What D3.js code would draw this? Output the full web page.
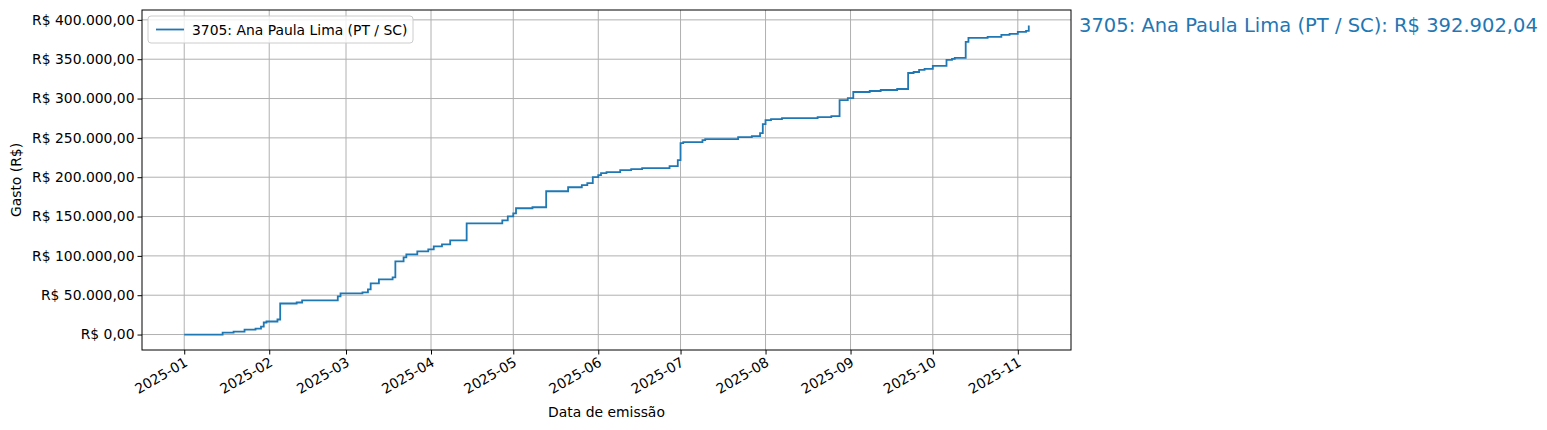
<!DOCTYPE html>
<html><head><meta charset="utf-8">
<script src="https://cdn.jsdelivr.net/npm/d3@7"></script>
<style>body{margin:0;background:#fff}text{font-family:"DejaVu Sans",sans-serif}</style>
</head><body><div id="chart"></div>
<script>
// datas das notas e gasto acumulado (R$)
const datas = ["2025-01-01","2025-01-15","2025-01-19","2025-01-23","2025-01-27","2025-01-29","2025-01-30","2025-01-31","2025-02-04","2025-02-05","2025-02-11","2025-02-13","2025-02-26","2025-02-27","2025-03-07","2025-03-09","2025-03-10","2025-03-13","2025-03-18","2025-03-19","2025-03-22","2025-03-23","2025-03-27","2025-03-31","2025-04-02","2025-04-05","2025-04-08","2025-04-14","2025-04-27","2025-04-29","2025-05-01","2025-05-02","2025-05-08","2025-05-13","2025-05-21","2025-05-26","2025-05-28","2025-05-30","2025-06-01","2025-06-02","2025-06-04","2025-06-09","2025-06-13","2025-06-17","2025-06-27","2025-06-30","2025-07-01","2025-07-02","2025-07-09","2025-07-10","2025-07-22","2025-07-27","2025-07-30","2025-07-31","2025-08-01","2025-08-03","2025-08-07","2025-08-20","2025-08-25","2025-08-28","2025-08-31","2025-09-02","2025-09-08","2025-09-12","2025-09-18","2025-09-22","2025-09-24","2025-09-26","2025-09-28","2025-10-01","2025-10-06","2025-10-08","2025-10-09","2025-10-13","2025-10-14","2025-10-21","2025-10-26","2025-10-29","2025-11-01","2025-11-04","2025-11-05"];
const gastos = [0,2548,3822,6370,7643,10191,15287,16561,19109,39492,40765,43313,48409,52230,53504,57326,64969,70065,72613,92995,98091,101913,105734,108282,112104,114652,119748,141404,145226,150322,154143,160513,161787,182169,187265,189813,192361,200004,202551,205099,206373,208921,210195,211469,214017,221660,243316,244590,247138,248412,250960,252234,256055,267520,272616,273890,275164,276438,277712,298094,300642,308285,309559,310833,312107,332489,333763,336311,337585,341406,349050,350324,351598,371980,377076,378350,380898,382171,384719,386000,392902.04];
const serie = "3705: Ana Paula Lima (PT / SC)";
const yTicks = [0,50000,100000,150000,200000,250000,300000,350000,400000];
const xTicks = ["2025-01","2025-02","2025-03","2025-04","2025-05","2025-06","2025-07","2025-08","2025-09","2025-10","2025-11"];

const width = 1547, height = 430;
const margin = {top: 10, right: 476, bottom: 80, left: 142};
const innerWidth = width - margin.left - margin.right;
const innerHeight = height - margin.top - margin.bottom;
const cor = "#1f77b4";
const fs = 13.9;

const parse = d3.timeParse("%Y-%m-%d");
const data = datas.map((d, i) => ({date: parse(d), v: gastos[i]}));
const br = d3.formatLocale({decimal: ",", thousands: ".", grouping: [3], currency: ["R$ ", ""]});
const fmt = v => "R$ " + br.format(",.2f")(v);

const x0 = data[0].date, x1 = data[data.length - 1].date;
const padX = (x1 - x0) * 0.05;
const xScale = d3.scaleTime().domain([new Date(+x0 - padX), new Date(+x1 + padX)]).range([0, innerWidth]);
const ymax = d3.max(gastos);
const yScale = d3.scaleLinear().domain([-ymax * 0.05, ymax * 1.05]).range([innerHeight, 0]);

const svg = d3.select("#chart").append("svg").attr("width", width).attr("height", height);
const g = svg.append("g").attr("transform", `translate(${margin.left},${margin.top})`);

// Grid
const tdates = xTicks.map(t => d3.timeParse("%Y-%m")(t));
g.append("g").selectAll("line").data(tdates).join("line")
  .attr("x1", d => xScale(d)).attr("x2", d => xScale(d)).attr("y1", 0).attr("y2", innerHeight)
  .attr("stroke", "#b0b0b0").attr("stroke-width", 1);
g.append("g").selectAll("line").data(yTicks).join("line")
  .attr("y1", d => yScale(d)).attr("y2", d => yScale(d)).attr("x1", 0).attr("x2", innerWidth)
  .attr("stroke", "#b0b0b0").attr("stroke-width", 1);

const bottomAxis = d3.axisBottom(xScale).tickValues(tdates).tickFormat(d3.timeFormat("%Y-%m")).tickSize(4.5).tickSizeOuter(0);
const xa = g.append("g").attr("transform", `translate(0,${innerHeight})`).call(bottomAxis);
xa.selectAll("text").attr("font-size", fs).attr("text-anchor", "end")
  .attr("transform", "rotate(-30)").attr("dx", "-0.3em").attr("dy", "0.55em");
const leftAxis = d3.axisLeft(yScale).tickValues(yTicks).tickFormat(fmt).tickSize(4.5).tickSizeOuter(0);
const ya = g.append("g").call(leftAxis);
ya.selectAll("text").attr("font-size", fs);
[xa, ya].forEach(a => a.select(".domain").remove());
g.append("rect").attr("width", innerWidth).attr("height", innerHeight).attr("fill", "none").attr("stroke", "#000").attr("stroke-width", 1);

const line = d3.line().x(d => xScale(d.date)).y(d => yScale(d.v)).curve(d3.curveStepAfter);
g.append("path").datum(data).attr("d", line).attr("fill", "none").attr("stroke", cor).attr("stroke-width", 1.8);

// Labels
svg.append("text").attr("x", margin.left + innerWidth / 2).attr("y", 417).attr("text-anchor", "middle").attr("font-size", fs).text("Data de emissão");
svg.append("text").attr("transform", `translate(21,${margin.top + innerHeight / 2}) rotate(-90)`).attr("text-anchor", "middle").attr("font-size", fs).text("Gasto (R$)");

// Legenda
const lg = g.append("g").attr("transform", "translate(6,6)");
lg.append("rect").attr("width", 265).attr("height", 27).attr("rx", 3).attr("fill", "#fff").attr("fill-opacity", 0.8).attr("stroke", "#ccc");
lg.append("line").attr("x1", 8).attr("x2", 36).attr("y1", 13.5).attr("y2", 13.5).attr("stroke", cor).attr("stroke-width", 1.8);
lg.append("text").attr("x", 44).attr("y", 18.5).attr("font-size", fs).text(serie);

// Anotação final
svg.append("text").attr("x", 1079).attr("y", 32).attr("font-size", 19.5).attr("fill", cor).text(`${serie}: ${fmt(ymax)}`);
</script></body></html>
